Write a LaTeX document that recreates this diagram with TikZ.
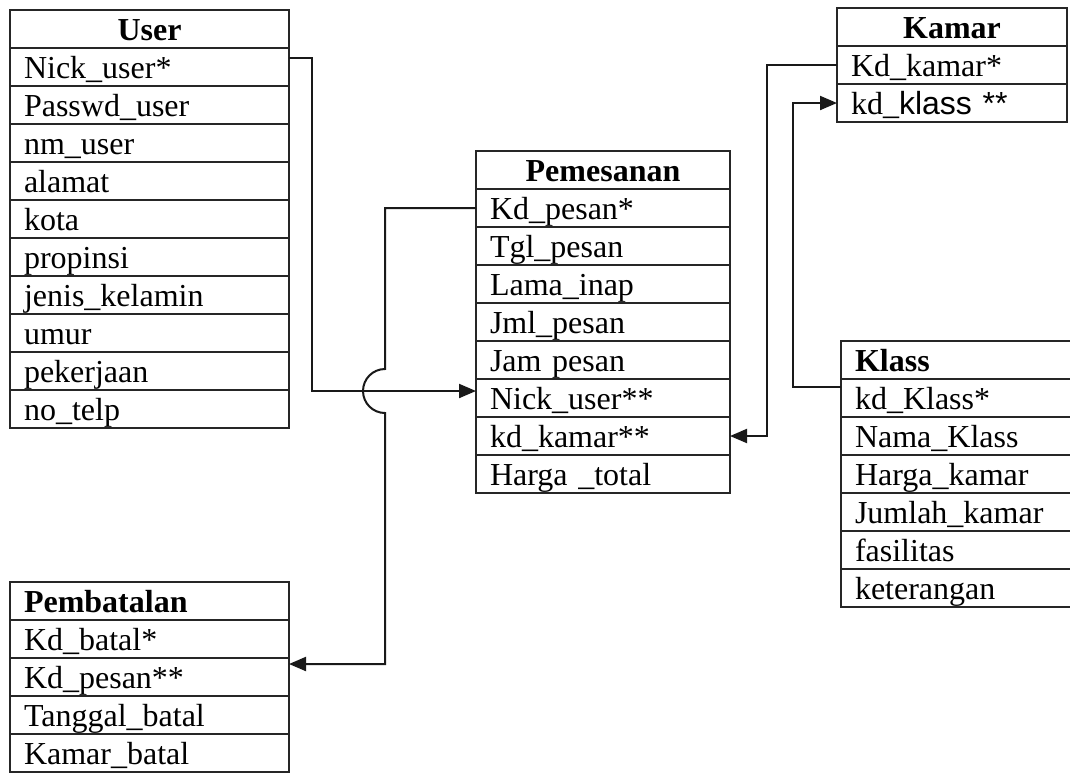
\documentclass[tikz,border=0pt]{standalone}
\usepackage{fontspec}
\setmainfont{Liberation Serif}
\setsansfont{Liberation Sans}
\usetikzlibrary{arrows.meta}
\begin{document}
\begin{tikzpicture}[x=1pt,y=1pt,
  cell/.style={draw=black!85, line width=1.6pt, outer sep=0pt, anchor=north west,
    minimum height=38pt, inner xsep=14pt, inner ysep=0pt,
    text height=24pt, text depth=2pt, align=left,
    font=\fontsize{32}{38}\selectfont},
  hdr/.style={font=\fontsize{32}{38}\selectfont\bfseries},
  hdrc/.style={hdr, align=center},
  utab/.style={cell, text width=251pt},
  ptab/.style={cell, text width=226pt},
  ktab/.style={cell, text width=202pt},
  ctab/.style={cell, text width=203pt},
  btab/.style={cell, text width=251pt},
  conn/.style={draw=black!90, line width=2pt, -{Triangle[length=17pt,width=14pt]}}
]
\useasboundingbox (0,0) rectangle (1070,-772);
\fill[white] (0,0) rectangle (1070,-772);

% User
\node[utab,hdrc] (u0) at (10,-10) {User};
\node[utab] (u1) at (u0.south west) {Nick\_user*};
\node[utab] (u2) at (u1.south west) {Passwd\_user};
\node[utab] (u3) at (u2.south west) {nm\_user};
\node[utab] (u4) at (u3.south west) {alamat};
\node[utab] (u5) at (u4.south west) {kota};
\node[utab] (u6) at (u5.south west) {propinsi};
\node[utab] (u7) at (u6.south west) {jenis\_kelamin};
\node[utab] (u8) at (u7.south west) {umur};
\node[utab] (u9) at (u8.south west) {pekerjaan};
\node[utab] (u10) at (u9.south west) {no\_telp};

% Pemesanan
\node[ptab,hdrc] (p0) at (476,-151) {Pemesanan};
\node[ptab] (p1) at (p0.south west) {Kd\_pesan*};
\node[ptab] (p2) at (p1.south west) {Tgl\_pesan};
\node[ptab] (p3) at (p2.south west) {Lama\_inap};
\node[ptab] (p4) at (p3.south west) {Jml\_pesan};
\node[ptab] (p5) at (p4.south west) {Jam pesan};
\node[ptab] (p6) at (p5.south west) {Nick\_user**};
\node[ptab] (p7) at (p6.south west) {kd\_kamar**};
\node[ptab] (p8) at (p7.south west) {Harga \_total};

% Kamar
\node[ktab,hdrc] (k0) at (837,-8) {Kamar};
\node[ktab] (k1) at (k0.south west) {Kd\_kamar*};
\node[ktab] (k2) at (k1.south west) {kd\_{\sffamily klass **}};

% Klass
\node[ctab,hdr] (c0) at (841,-341) {Klass};
\node[ctab] (c1) at (c0.south west) {kd\_Klass*};
\node[ctab] (c2) at (c1.south west) {Nama\_Klass};
\node[ctab] (c3) at (c2.south west) {Harga\_kamar};
\node[ctab] (c4) at (c3.south west) {Jumlah\_kamar};
\node[ctab] (c5) at (c4.south west) {fasilitas};
\node[ctab] (c6) at (c5.south west) {keterangan};

% Pembatalan
\node[btab,hdr] (b0) at (10,-582) {Pembatalan};
\node[btab] (b1) at (b0.south west) {Kd\_batal*};
\node[btab] (b2) at (b1.south west) {Kd\_pesan**};
\node[btab] (b3) at (b2.south west) {Tanggal\_batal};
\node[btab] (b4) at (b3.south west) {Kamar\_batal};

% connectors
\draw[conn] ([yshift=9pt]u1.east) -- ++(23,0) |- ([yshift=7pt]p6.west);
\draw[conn] (p1.west) -| (385,-369) arc[start angle=90,end angle=270,radius=22] |- ([yshift=13pt]b2.east);
\draw[conn] (k1.west) -- ++(-70,0) |- (p7.east);
\draw[conn] ([yshift=11pt]c1.west) -- ++(-48,0) |- (k2.west);
\end{tikzpicture}
\end{document}
